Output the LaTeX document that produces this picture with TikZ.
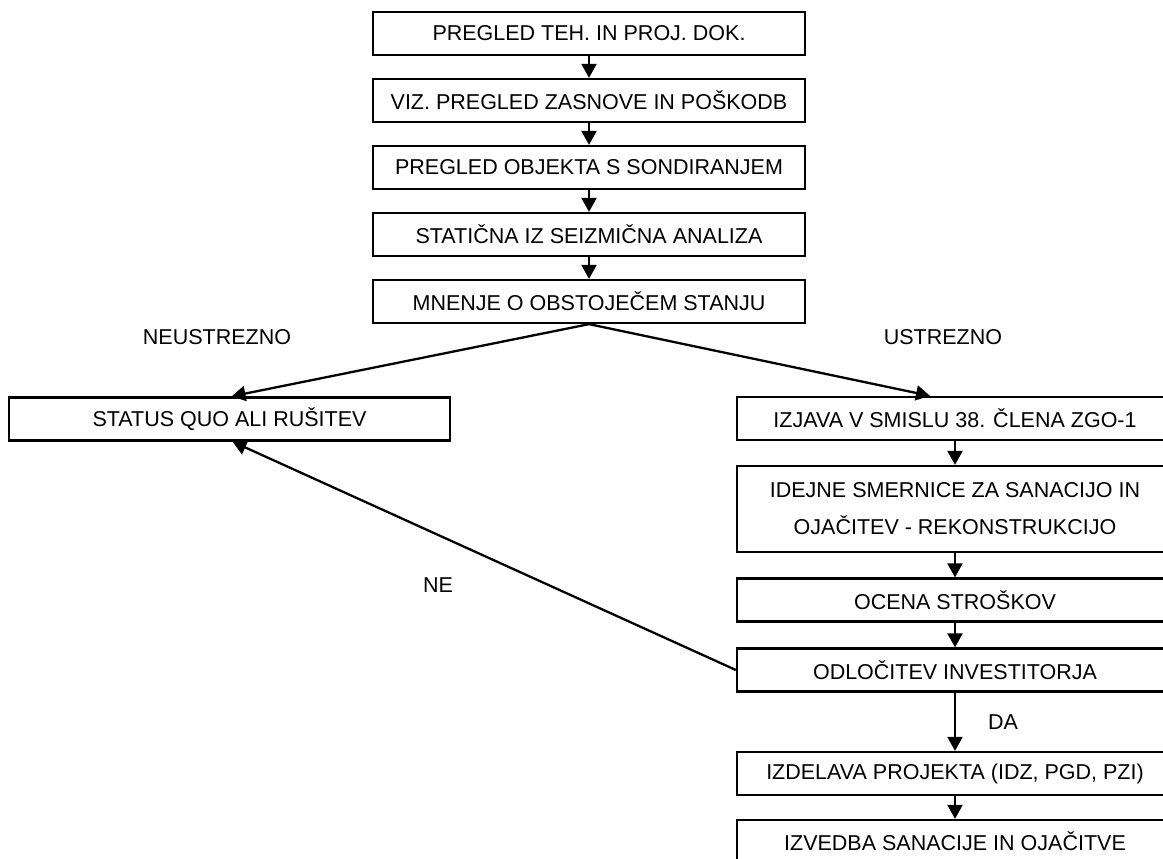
\documentclass[tikz,border=0pt]{standalone}
\usepackage{fontspec}
\setmainfont{Liberation Sans}
\usetikzlibrary{arrows.meta}
\begin{document}
\begin{tikzpicture}[x=1pt,y=-1pt,
  box/.style={draw=black,line width=2.3pt,rectangle,inner sep=0pt,
    minimum height=43pt,align=center,font=\fontsize{21.5}{37}\selectfont},
  topbox/.style={box,minimum width=432pt},
  rbox/.style={box,minimum width=436pt},
  lbl/.style={inner sep=0pt,font=\fontsize{21.5}{25}\selectfont},
  arr/.style={line width=2.3pt,-{Triangle[length=14pt,width=15pt]}}]
\useasboundingbox (0,0) rectangle (1163,859);
\clip (0,0) rectangle (1163,859);
\fill[white] (0,0) rectangle (1163,859);
% top column
\node[topbox] (b1) at (589,33.5) {PREGLED TEH. IN PROJ. DOK.};
\node[topbox] (b2) at (589,100.5) {VIZ. PREGLED ZASNOVE IN POŠKODB};
\node[topbox] (b3) at (589,167.5) {PREGLED OBJEKTA S SONDIRANJEM};
\node[topbox] (b4) at (589,234.5) {STATIČNA IZ SEIZMIČNA ANALIZA};
\node[topbox] (b5) at (589,301.5) {MNENJE O OBSTOJEČEM STANJU};
% left
\node[box,minimum width=441pt] (sq) at (229.5,419) {STATUS QUO ALI RUŠITEV};
% right column
\node[rbox] (izj) at (955,418.5) {IZJAVA V SMISLU 38. ČLENA ZGO-1};
\node[rbox,minimum height=86pt] (ide) at (955,509) {IDEJNE SMERNICE ZA SANACIJO IN\\OJAČITEV - REKONSTRUKCIJO};
\node[rbox] (oce) at (955,600) {OCENA STROŠKOV};
\node[rbox] (odl) at (955,670) {ODLOČITEV INVESTITORJA};
\node[rbox] (izd) at (955,773.5) {IZDELAVA PROJEKTA (IDZ, PGD, PZI)};
\node[rbox] (izv) at (955,841.5) {IZVEDBA SANACIJE IN OJAČITVE};
% labels
\node[lbl] (neu) at (217,337) {NEUSTREZNO};
\node[lbl] (ust) at (943,337) {USTREZNO};
\node[lbl] (ne) at (438,585) {NE};
\node[lbl] (da) at (1003,722) {DA};
% connectors
\draw[arr] (b1) -- (b2);
\draw[arr] (b2) -- (b3);
\draw[arr] (b3) -- (b4);
\draw[arr] (b4) -- (b5);
\draw[arr] (b5.south) -- ([xshift=2pt]sq.north);
\draw[arr] (b5.south) -- ([xshift=-25pt]izj.north);
\draw[arr] (izj) -- (ide);
\draw[arr] (ide) -- (oce);
\draw[arr] (oce) -- (odl);
\draw[arr] (odl.west) -- ([xshift=3pt]sq.south);
\draw[arr] (odl) -- (izd);
\draw[arr] (izd) -- (izv);
\end{tikzpicture}
\end{document}
